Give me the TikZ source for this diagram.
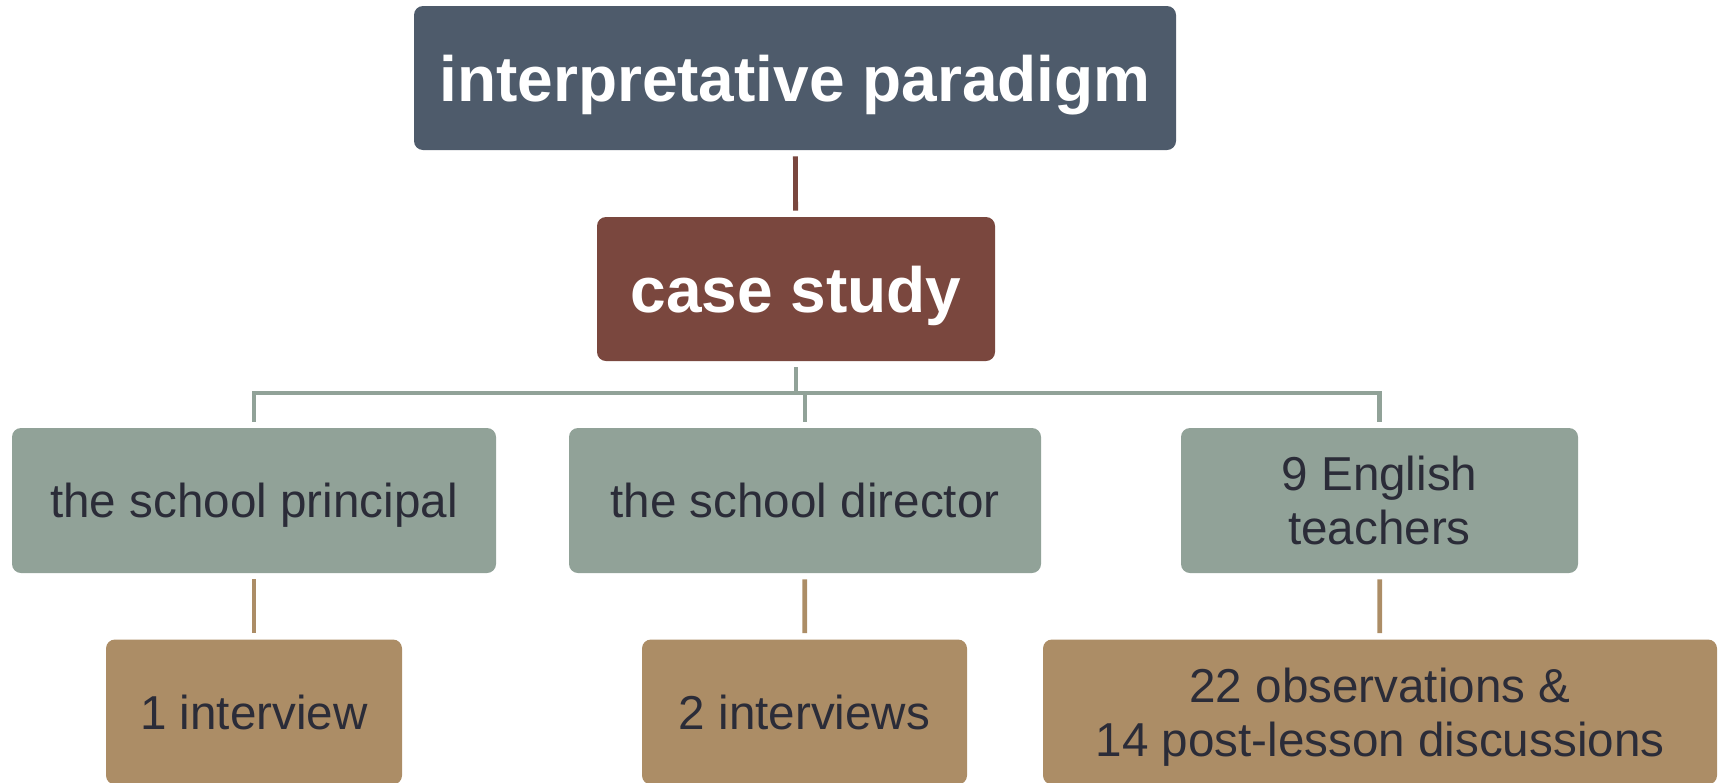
\documentclass[tikz,border=0pt]{standalone}
\usepackage{fontspec}
\setmainfont{Liberation Sans}
\usepackage{tikz}
\definecolor{slate}{HTML}{4E5B6B}
\definecolor{rust}{HTML}{7A473E}
\definecolor{sage}{HTML}{91A298}
\definecolor{sand}{HTML}{AC8D66}
\definecolor{ink}{HTML}{2B2C38}
\tikzset{
  bigbox/.style={fill=#1,rounded corners=4.5pt,minimum height=72pt,text=white,
    font=\fontsize{32}{36}\selectfont\bfseries,inner sep=0pt,text depth=0pt},
  smallbox/.style={fill=#1,rounded corners=4.5pt,minimum height=72.5pt,text=ink,
    font=\fontsize{23.8}{27}\selectfont,align=center,inner sep=0pt,text depth=0pt},
  link/.style={draw=#1,line width=2.4pt,shorten <=3pt,shorten >=3pt}
}

\begin{document}
\begin{tikzpicture}[x=0.5pt,y=-0.5pt]
%%Location
\useasboundingbox (0,0) rectangle (1727,782);
%%Boxes
\node[bigbox=slate,minimum width=381pt] (paradigm) at (795,78) {interpretative paradigm};
\node[bigbox=rust,minimum width=199pt] (case) at (796,289) {case study};

\node[smallbox=sage,minimum width=242pt] (principal) at (254,500.5) {the school principal};
\node[smallbox=sage,minimum width=236pt] (director) at (805,500.5) {the school director};
\node[smallbox=sage,minimum width=198.5pt] (teachers) at (1379.5,500.5) {9 English\\teachers};

\node[smallbox=sand,minimum width=148pt] (interview) at (254,712) {1 interview};
\node[smallbox=sand,minimum width=162.5pt] (interviews) at (804.5,712) {2 interviews};
\node[smallbox=sand,minimum width=337pt] (observ) at (1380,712) {22 observations \&\\14 post-lesson discussions};

%%Tree
\coordinate (bus) at (795,393);
\draw[link=rust] (paradigm) -- (case);
\draw[link=sage,shorten >=0pt] (case.south) -- (case.south |- bus);
\draw[link=sage] (principal.north) |- (teachers.north |- bus) -- (teachers.north);
\draw[link=sage,shorten <=0pt] (director.north |- bus) -- (director.north);

\draw[link=sand] (principal) -- (interview);
\draw[link=sand] (director) -- (interviews);
\draw[link=sand] (teachers) -- (observ);
\end{tikzpicture}
\end{document}
